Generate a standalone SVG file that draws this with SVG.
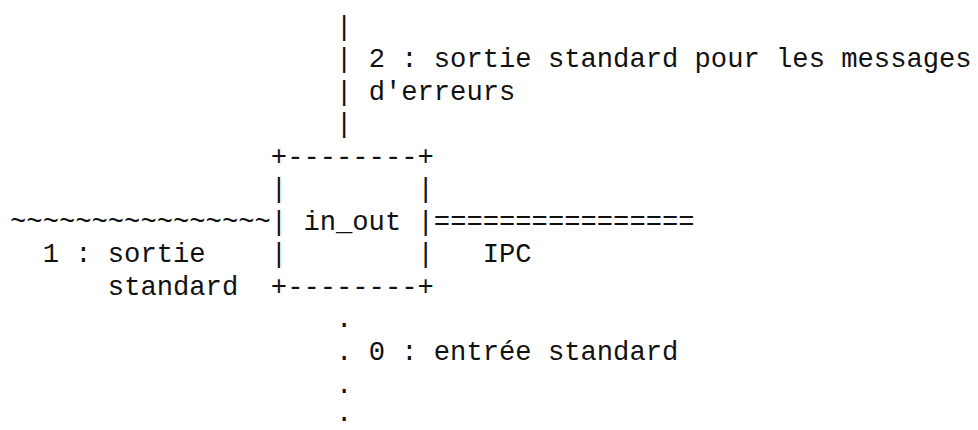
<svg xmlns="http://www.w3.org/2000/svg" width="978" height="430" viewBox="0 0 978 430">
  <style>
    /* Typewriter grid: 16.3px column pitch, 32.55px line pitch */
    text { font-family: "Liberation Mono", "DejaVu Sans Mono", monospace; font-size: 27.17px; fill: #111; }
  </style>
  <rect width="978" height="430" fill="#ffffff"/>

  <!-- connectors drawn as typed characters -->
  <g id="connectors">
    <!-- stderr line (2) -->
    <g id="stderr-line">
      <text x="336.05" y="34.5">|</text>
      <text x="336.05" y="67.05">|</text>
      <text x="336.05" y="99.6">|</text>
      <text x="336.05" y="132.15">|</text>
    </g>
    <!-- stdout line (1) -->
    <text id="stdout-line" x="10.05" y="229.8">~~~~~~~~~~~~~~~~</text>
    <!-- IPC line -->
    <text id="ipc-line" x="433.85" y="229.8">================</text>
    <!-- stdin line (0) -->
    <g id="stdin-line">
      <text x="336.05" y="327.45">.</text>
      <text x="336.05" y="360">.</text>
      <text x="336.05" y="392.55">.</text>
      <text x="336.05" y="421">.</text>
    </g>
  </g>

  <!-- process box -->
  <g id="in_out">
    <text x="270.85" y="164.7">+--------+</text>
    <text x="270.85" y="197.25">|</text>
    <text x="417.55" y="197.25">|</text>
    <text x="270.85" y="229.8">|</text>
    <text x="303.45" y="229.8">in_out</text>
    <text x="417.55" y="229.8">|</text>
    <text x="270.85" y="262.35">|</text>
    <text x="417.55" y="262.35">|</text>
    <text x="270.85" y="294.9">+--------+</text>
  </g>

  <!-- descriptor labels -->
  <g id="labels">
    <text x="368.65" y="67.05">2 : sortie standard pour les messages</text>
    <text x="368.65" y="99.6">d'erreurs</text>
    <text x="42.65" y="262.35">1 : sortie</text>
    <text x="107.85" y="294.9">standard</text>
    <text x="482.75" y="262.35">IPC</text>
    <text x="368.65" y="360">0 : entrée standard</text>
  </g>
</svg>
